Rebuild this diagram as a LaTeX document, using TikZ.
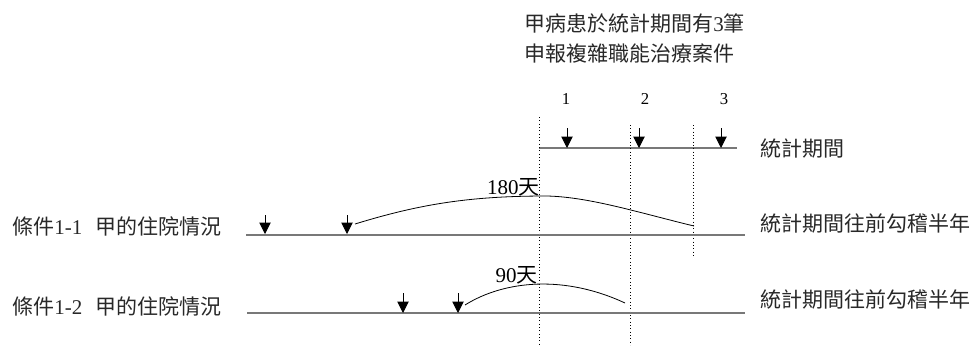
\documentclass[tikz,border=0pt]{standalone}
\usepackage{fontspec}
\setmainfont{Liberation Serif}
\newfontfamily\cjk{Noto Sans CJK TC}
\usetikzlibrary{arrows.meta}
\definecolor{linegray}{RGB}{120,120,120}
\definecolor{txtgray}{RGB}{40,40,40}
\tikzset{
  txt/.style={inner sep=0pt, anchor=west, text=txtgray, font=\fontsize{15.75}{22.5}\selectfont},
  num/.style={inner sep=0pt, font=\fontsize{12.5}{14}\selectfont},
  timeline/.style={draw=linegray, line width=1.2pt},
  downarr/.style={draw=black, line width=0.7pt, -{Triangle[width=8.5pt,length=8.5pt]}},
  guide/.style={draw=black, line width=0.5pt, dotted},
  span/.style={draw=black, line width=0.6pt}
}
\begin{document}
\begin{tikzpicture}[x=0.75pt,y=-0.75pt]
\useasboundingbox (0,0) rectangle (974,347);
% header
\node[txt, align=left] (hdr) at (524,38) {{\cjk 甲病患於統計期間有}3{\cjk 筆}\\{\cjk 申報複雜職能治療案件}};
% numbers
\node[num] (n1) at (566,99) {1};
\node[num] (n2) at (645,99) {2};
\node[num] (n3) at (724,99) {3};
% top timeline
\coordinate (tl0) at (539,148);
\coordinate (tl1) at (737,148);
\draw[timeline] (tl0) -- (tl1);
\node[txt] (tlab) at (760,149) {\cjk 統計期間};
\foreach \i/\x in {1/567,2/639,3/721}{
  \coordinate (ta\i) at (\x,128);
  \coordinate (tb\i) at (\x,148);
  \draw[downarr] (ta\i) -- (tb\i);
}
% dotted guides
\coordinate (g1a) at (539,117); \coordinate (g1b) at (539,345);
\coordinate (g2a) at (630,125); \coordinate (g2b) at (630,345);
\coordinate (g3a) at (693,125); \coordinate (g3b) at (693,258);
\draw[guide] (g1a) -- (g1b);
\draw[guide] (g2a) -- (g2b);
\draw[guide] (g3a) -- (g3b);
% condition 1-1
\node[txt] (c1lab) at (12,227) {{\cjk 條件}1-1\hspace{10pt}{\cjk 甲的住院情況}};
\coordinate (l1a) at (246,235); \coordinate (l1b) at (745,235);
\draw[timeline] (l1a) -- (l1b);
\node[txt] (r1lab) at (760,224) {\cjk 統計期間往前勾稽半年};
\foreach \i/\x in {1/265,2/347}{
  \coordinate (a\i) at (\x,215);
  \coordinate (b\i) at (\x,234);
  \draw[downarr] (a\i) -- (b\i);
}
\coordinate (s1a) at (355,224);
\coordinate (s1p) at (547,196);
\coordinate (s1b) at (694,226);
\draw[span] (s1a) .. controls (420,204) and (470,196) .. (s1p) .. controls (590,197) and (640,213) .. (s1b);
\node[txt, anchor=east, text=black] (d180) at (540,187) {180{\cjk 天}};
% condition 1-2
\node[txt] (c2lab) at (12,307) {{\cjk 條件}1-2\hspace{10pt}{\cjk 甲的住院情況}};
\coordinate (l2a) at (247,313); \coordinate (l2b) at (745,313);
\draw[timeline] (l2a) -- (l2b);
\node[txt] (r2lab) at (760,300) {\cjk 統計期間往前勾稽半年};
\foreach \i/\x in {3/403,4/458}{
  \coordinate (a\i) at (\x,293);
  \coordinate (b\i) at (\x,313);
  \draw[downarr] (a\i) -- (b\i);
}
\coordinate (s2a) at (465,305);
\coordinate (s2b) at (625,303);
\draw[span] (s2a) .. controls (505,280) and (565,275) .. (s2b);
\node[txt, anchor=east, text=black] (d90) at (538,275) {90{\cjk 天}};
\end{tikzpicture}
\end{document}
